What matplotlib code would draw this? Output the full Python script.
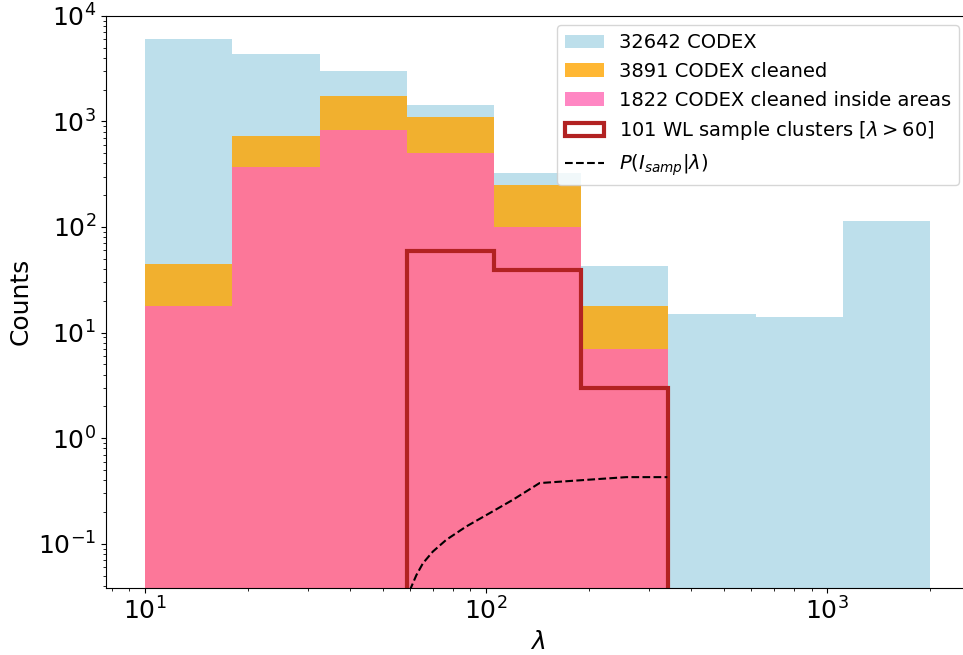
import numpy as np
import matplotlib
matplotlib.use("Agg")
import matplotlib.pyplot as plt

# richness bin edges (log-spaced)
lam_edges = [10.0, 18.0, 32.5, 58.5, 105.4, 190.0, 342.4, 617.0, 1111.9, 2000.0]

# counts per richness bin
codex_all = [6040, 4325, 3000, 1428, 323, 42.7, 14.9, 13.9, 113]
codex_clean = [45, 730, 1750, 1099, 249, 18, 0, 0, 0]
codex_areas = [18, 370, 826, 500, 101, 7, 0, 0, 0]
wl_sample = [0, 0, 0, 59, 39, 3, 0, 0, 0]

# selection probability curve
lam_sel = [59.7, 62.5, 65.3, 69.8, 76.4, 87.5, 102.4, 119.8, 143.5, 257.6, 340.0]
p_sel = [0.036, 0.0507, 0.0655, 0.0844, 0.109, 0.146, 0.195, 0.261, 0.376, 0.428, 0.428]

labels = ["32642 CODEX", "3891 CODEX cleaned", "1822 CODEX cleaned inside areas",
          r"101 WL sample clusters [$\lambda>60$]", r"$P(I_{samp}|\lambda)$"]

fig = plt.figure(figsize=(9.63, 6.55), dpi=100)
ax = fig.add_axes([0.1098, 0.1027, 0.8965, 0.8733])

centers = np.sqrt(np.array(lam_edges[:-1]) * np.array(lam_edges[1:]))
ax.hist(centers, bins=lam_edges, weights=codex_all, color="lightblue", alpha=0.8,
        label=labels[0])
ax.hist(centers, bins=lam_edges, weights=codex_clean, color="orange", alpha=0.8,
        label=labels[1])
ax.hist(centers, bins=lam_edges, weights=codex_areas, color="hotpink", alpha=0.8,
        label=labels[2])
ax.hist(centers, bins=lam_edges, weights=wl_sample, histtype="step",
        color="firebrick", lw=3, label=labels[3])
ax.plot(lam_sel, p_sel, "k--", lw=1.5, label=labels[4])

ax.set_xscale("log")
ax.set_yscale("log")
ax.set_ylim(0.0384, 1.0e4)
ax.set_xlabel(r"$\lambda$", fontsize=18)
ax.set_ylabel("Counts", fontsize=18)
ax.tick_params(axis="both", which="major", labelsize=18)
ax.legend(loc="upper right", fontsize=14)

fig.savefig("out.png", dpi=100)
